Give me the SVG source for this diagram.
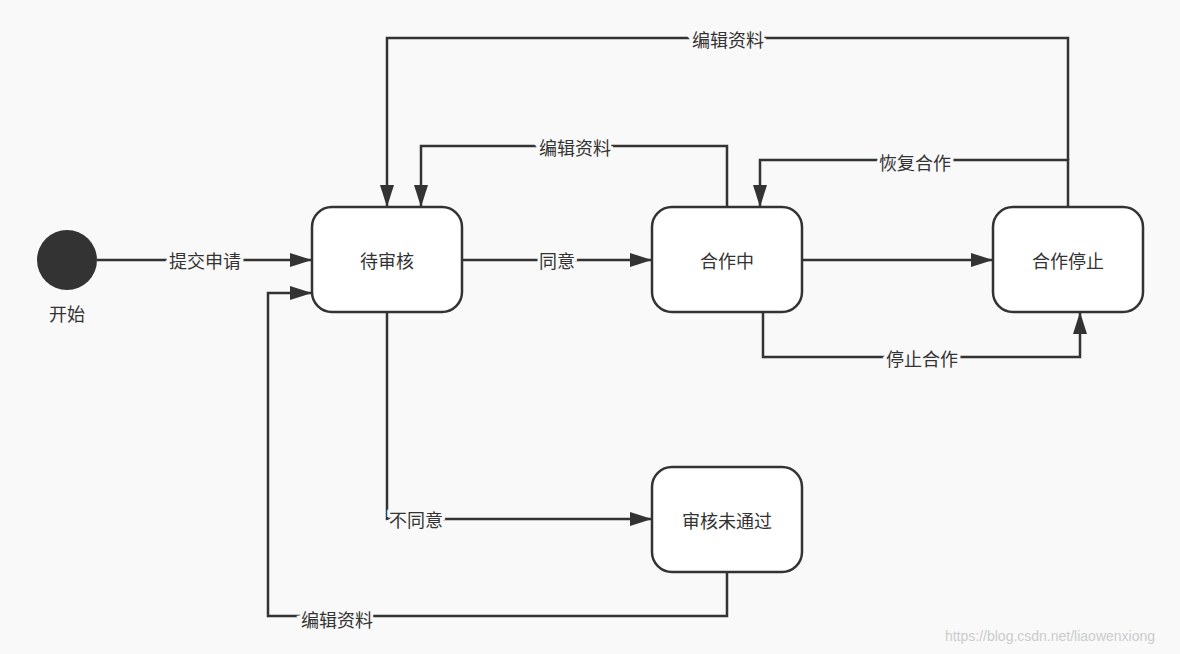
<svg xmlns="http://www.w3.org/2000/svg" width="1180" height="654" viewBox="0 0 1180 654">
<defs>
<marker id="a" viewBox="0 0 22 14" refX="22" refY="7" markerWidth="22" markerHeight="14" markerUnits="userSpaceOnUse" orient="auto"><path d="M0,0L22,7L0,14z" fill="#333"/></marker>
<style>
.n{fill:#fff;stroke:#333;stroke-width:2.5}
.c{fill:none;stroke:#333;stroke-width:2.5;marker-end:url(#a)}
text{font-family:"Noto Sans CJK SC","Liberation Sans",sans-serif;font-size:18px;fill:#333;text-anchor:middle}
.l{paint-order:stroke;stroke:#f9f9f9;stroke-width:6}
</style>
</defs>
<rect width="1180" height="654" fill="#f9f9f9"/>
<g id="connectors">
<path class="c" d="M97,260H312"/>
<path class="c" d="M462,260H652"/>
<path class="c" d="M802,260H993"/>
<path class="c" d="M763,312V357H1080V312"/>
<path class="c" d="M1068,207V160H760V207"/>
<path class="c" d="M1068,160V38H387V207"/>
<path class="c" d="M727,207V146H421V207"/>
<path class="c" d="M387,312V519H652"/>
<path class="c" d="M727,572V616H268V293H312"/>
<text class="l" x="205" y="268">提交申请</text>
<text class="l" x="557" y="268">同意</text>
<text class="l" x="922" y="366">停止合作</text>
<text class="l" x="915" y="170">恢复合作</text>
<text class="l" x="728" y="47">编辑资料</text>
<text class="l" x="575" y="155">编辑资料</text>
<text class="l" x="416" y="527">不同意</text>
<text class="l" x="337" y="627">编辑资料</text>
</g>
<g id="start"><circle cx="67" cy="260" r="30" fill="#333"/><text x="67" y="321">开始</text></g>
<g id="pending"><rect class="n" x="312" y="207" width="150" height="105" rx="20"/><text x="387" y="268">待审核</text></g>
<g id="coop"><rect class="n" x="652" y="207" width="150" height="105" rx="20"/><text x="727" y="268">合作中</text></g>
<g id="stopped"><rect class="n" x="993" y="207" width="150" height="105" rx="20"/><text x="1068" y="268">合作停止</text></g>
<g id="rejected"><rect class="n" x="652" y="467" width="150" height="105" rx="20"/><text x="727" y="528">审核未通过</text></g>
<text x="1050" y="641" style="font-size:14px;fill:#ccc;font-family:'Liberation Sans',sans-serif">https://blog.csdn.net/liaowenxiong</text>
</svg>
